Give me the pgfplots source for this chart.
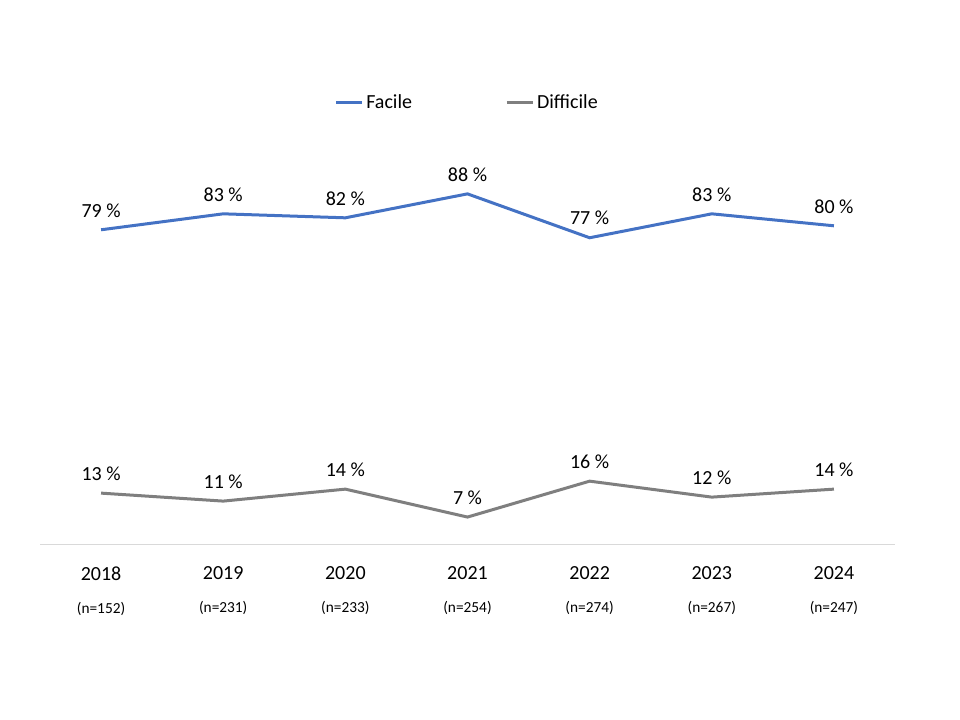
\documentclass[border=0pt]{standalone}
\usepackage{pgfplots}
\pgfplotsset{compat=1.18}
\usepackage{fontspec}
\setmainfont{Carlito}
\definecolor{cblue}{HTML}{4472C4}
\definecolor{cgray}{HTML}{7F7F7F}
\definecolor{cline}{HTML}{D9D9D9}
\begin{document}
\begin{tikzpicture}
\begin{axis}[
  at={(0pt,0pt)}, anchor=south west,
  scale only axis, width=641.25pt, height=299.25pt,
  xmin=-0.5, xmax=6.5, ymin=0, ymax=100,
  axis y line=none, axis x line*=bottom,
  x axis line style={-, color=cline, line width=0.75pt},
  xtick={0,1,2,3,4,5,6},
  major tick length=0pt,
  /pgf/number format/assume math mode=true,
  xticklabels={
    {2018\\[8pt]{\fontsize{11.5}{13}\selectfont (n=152)}},
    {2019\\[8pt]{\fontsize{11.5}{13}\selectfont (n=231)}},
    {2020\\[8pt]{\fontsize{11.5}{13}\selectfont (n=233)}},
    {2021\\[8pt]{\fontsize{11.5}{13}\selectfont (n=254)}},
    {2022\\[8pt]{\fontsize{11.5}{13}\selectfont (n=274)}},
    {2023\\[8pt]{\fontsize{11.5}{13}\selectfont (n=267)}},
    {2024\\[8pt]{\fontsize{11.5}{13}\selectfont (n=247)}}},
  xticklabel style={align=center, font=\fontsize{15}{17}\selectfont, anchor=north, yshift=-12.5pt},
  nodes near coords={\pgfmathprintnumber{\pgfplotspointmeta} \%},
  nodes near coords style={font=\fontsize{15}{17}\selectfont, anchor=south, yshift=5pt, text=black},
  point meta=explicit,
  legend columns=2,
  legend style={draw=none, at={(0.50,1.11)}, anchor=center,
    font=\fontsize{15}{17}\selectfont,
    /tikz/every even column/.append style={column sep=68pt}},
  legend image code/.code={\draw[#1] (0pt,0pt) -- (19.5pt,0pt);},
  clip=false,
]
\addplot[cblue, line width=2.25pt, mark=none] coordinates {
  (0,79) [79] (1,83) [83] (2,82) [82] (3,88) [88] (4,77) [77] (5,83) [83] (6,80) [80]};
\addlegendentry{Facile}
\addplot[cgray, line width=2.25pt, mark=none] coordinates {
  (0,13) [13] (1,11) [11] (2,14) [14] (3,7) [7] (4,16) [16] (5,12) [12] (6,14) [14]};
\addlegendentry{Difficile}
\end{axis}
\path (-30pt,-131.25pt) rectangle (690pt,408.75pt);
\end{tikzpicture}
\end{document}
